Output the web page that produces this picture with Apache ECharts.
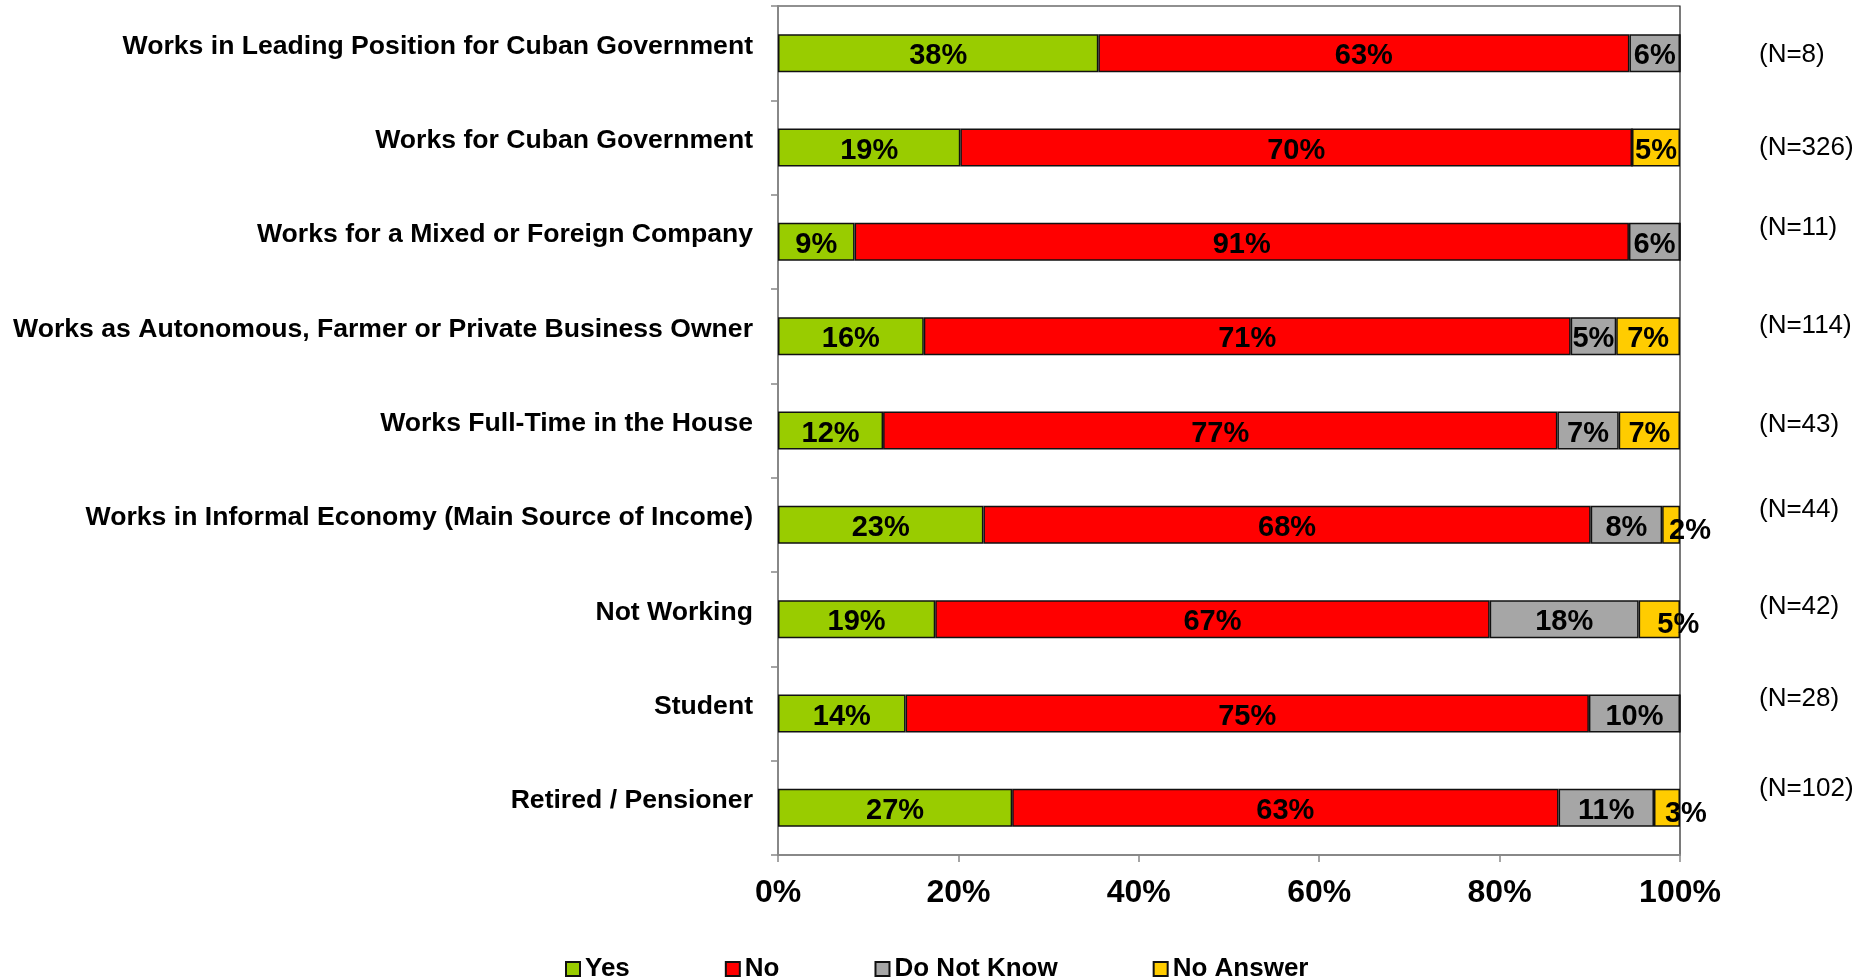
<!DOCTYPE html>
<html>
<head>
<meta charset="utf-8">
<script src="https://cdn.jsdelivr.net/npm/echarts@6/dist/echarts.min.js"></script>
<style>
html,body{margin:0;padding:0;background:#fff;}
#chart{width:1866px;height:977px;}
</style>
</head>
<body>
<div id="chart"></div>
<script>
const categories = [
  'Works in Leading Position for Cuban Government',
  'Works for Cuban Government',
  'Works for a Mixed or Foreign Company',
  'Works as Autonomous, Farmer or Private Business Owner',
  'Works Full-Time in the House',
  'Works in Informal Economy (Main Source of Income)',
  'Not Working',
  'Student',
  'Retired / Pensioner'
];
const yesVals = [38, 19, 9, 16, 12, 23, 19, 14, 27];
const noVals = [63, 70, 91, 71, 77, 68, 67, 75, 63];
const dontKnowVals = [6, 0, 6, 5, 7, 8, 18, 10, 11];
const noAnswerVals = [0, 5, 0, 7, 7, 2, 5, 0, 3];
const nLabels = ['(N=8)', '(N=326)', '(N=11)', '(N=114)', '(N=43)', '(N=44)', '(N=42)', '(N=28)', '(N=102)'];
const xTicks = ['0%', '20%', '40%', '60%', '80%', '100%'];
const seriesNames = ['Yes', 'No', 'Do Not Know', 'No Answer'];

// layout: vertical nudges of the (N=..) notes, in px (negative = up)
const nNudge = [2, 0, -14, -10, -6, -15, -12, -15, -19];

const colors = ['#99CC00', '#FF0000', '#A6A6A6', '#FFCC00'];
const raw = [yesVals, noVals, dontKnowVals, noAnswerVals];
const totals = categories.map((c, i) => raw.reduce((s, arr) => s + arr[i], 0));
const FONT = "'Liberation Sans', Arial, sans-serif";

const rich = {};
nNudge.forEach((d, i) => {
  rich['n' + i] = {
    fontFamily: FONT, fontSize: 26, color: '#000',
    padding: d < 0 ? [0, 0, -2 * d, 0] : [2 * d, 0, 0, 0]
  };
});

// segments too narrow for their label: label starts at segment centre (as in the source)
const NARROW = 4.66;

const series = raw.map((arr, k) => ({
  name: seriesNames[k],
  type: 'bar',
  stack: 'total',
  barWidth: 38,
  data: arr.map((v, i) => {
    const share = v / totals[i] * 100;
    if (v > 0 && share < NARROW) {
      return { value: share, label: { align: 'left', offset: [-2, 6] } };
    }
    return share;
  }),
  itemStyle: { color: colors[k], borderColor: '#111', borderWidth: 1.5 },
  label: {
    show: true,
    position: 'inside',
    fontFamily: FONT,
    fontWeight: 'bold',
    fontSize: 29,
    color: '#000',
    offset: [0, 3],
    formatter: p => arr[p.dataIndex] ? arr[p.dataIndex] + '%' : ''
  },
  emphasis: { disabled: true }
}));

const chart = echarts.init(document.getElementById('chart'), null, { renderer: 'canvas' });
chart.setOption({
  animation: false,
  backgroundColor: '#fff',
  grid: {
    left: 778, right: 186, top: 6, bottom: 122,
    show: true, borderColor: '#222', borderWidth: 1.2, containLabel: false
  },
  legend: {
    left: 560, top: 951,
    itemWidth: 14, itemHeight: 14, itemGap: 95,
    icon: 'rect',
    data: seriesNames,
    textStyle: { fontFamily: FONT, fontWeight: 'bold', fontSize: 26, color: '#000' }
  },
  xAxis: {
    type: 'value', min: 0, max: 100, interval: 20,
    splitLine: { show: false },
    axisLine: { show: true, lineStyle: { color: '#888', width: 2 } },
    axisTick: { show: true, length: 7, lineStyle: { color: '#888', width: 1.5 } },
    axisLabel: {
      margin: 22, fontFamily: FONT, fontWeight: 'bold', fontSize: 32, color: '#000',
      formatter: v => xTicks[Math.round(v / 20)]
    }
  },
  yAxis: [{
    type: 'category',
    data: categories,
    inverse: true,
    axisLine: { show: true, lineStyle: { color: '#888', width: 2 } },
    axisTick: { show: true, length: 7, lineStyle: { color: '#888', width: 1.5 } },
    axisLabel: {
      margin: 25,
      formatter: v => '{c|' + v + '}',
      rich: {
        c: { fontFamily: FONT, fontWeight: 'bold', fontSize: 26.6, color: '#000', padding: [0, 0, 14, 0] }
      }
    }
  }, {
    type: 'category',
    data: nLabels,
    inverse: true,
    position: 'right',
    axisLine: { show: false },
    axisTick: { show: false },
    axisLabel: {
      margin: 79, align: 'left',
      formatter: (v, i) => '{n' + i + '|' + v + '}',
      rich: rich
    }
  }],
  series: series
});
</script>
</body>
</html>
